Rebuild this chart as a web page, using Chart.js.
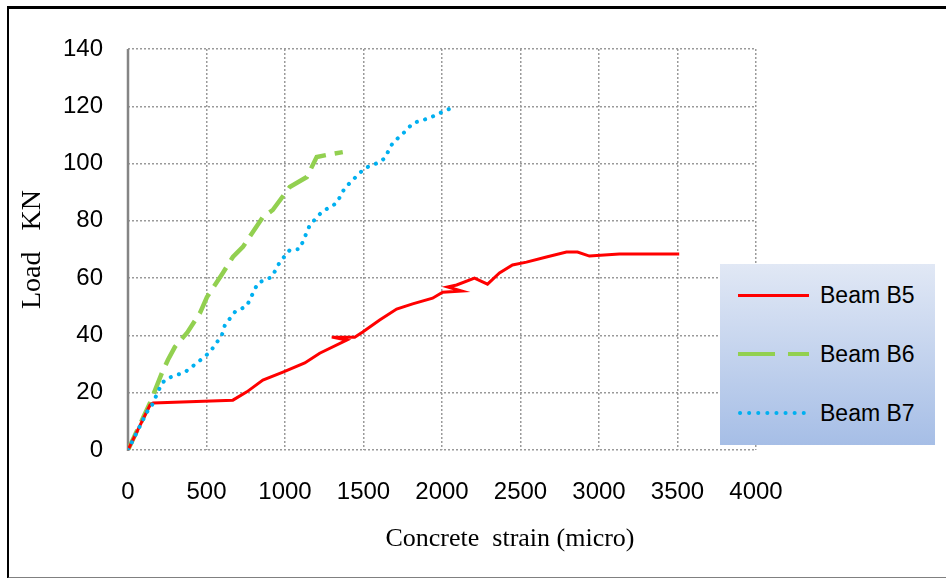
<!DOCTYPE html>
<html lang="en">
<head>
    <meta charset="UTF-8">
    <title>Load vs concrete strain</title>
    <style>
        body { margin: 0; background: #fff; }
        #quadro {
            position: absolute; left: 7px; top: 6px; width: 960px; height: 568px;
            border-top: 3px solid #000; border-left: 2px solid #000; border-bottom: 2px solid #808080;
        }
        #wrap { position: absolute; left: 0; top: 0; width: 946px; height: 578px; }
        #tituloX {
            position: absolute; left: 310px; width: 400px; top: 522px; text-align: center;
            font-family: 'Liberation Serif', 'Times New Roman', serif; font-size: 26px; line-height: 32px;
            white-space: pre;
        }
        #legenda {
            position: absolute; left: 720px; top: 264px; width: 215px; height: 181px;
            background: linear-gradient(to bottom, #e1e8f5, #a6bee6);
            font-family: 'Liberation Sans', Arial, sans-serif;
            font-size: 23px; color: #000;
        }
        .item { position: absolute; left: 18px; height: 30px; width: 200px; }
        .amostra { position: absolute; left: 0; top: 13px; width: 71px; height: 0; }
        .rotulo { position: absolute; left: 82px; top: -1px; line-height: 30px; white-space: nowrap; }
    </style>
</head>
<body>
    <div id="quadro"></div>
    <div id="wrap">
        <canvas id="grafico" width="946" height="578"></canvas>
        <div id="tituloX">Concrete  strain (micro)</div>
        <div id="legenda"></div>
    </div>
    <script src="https://cdn.jsdelivr.net/npm/chart.js"></script>
    <script>
        // leituras do grafico (strain em micro, carga em kN)
        const xB5 = [0, 140, 160, 668, 757, 859, 987, 1126, 1221, 1393, 1298, 1444, 1495, 1603, 1711, 1813, 1940, 2004, 2125, 2036, 2093, 2207, 2290, 2366, 2449, 2538, 2665, 2793, 2863, 2939, 3130, 3511]
        const yB5 = [0, 15.7, 16.4, 17.4, 20.3, 24.4, 27.2, 30.4, 33.8, 38.4, 39.4, 39.4, 41.2, 45.4, 49.2, 51, 53, 55.1, 55.5, 56.9, 57.6, 60, 57.9, 61.8, 64.6, 65.6, 67.4, 69.1, 69.1, 67.7, 68.4, 68.4]

        const xB6 = [0, 140, 216, 254, 299, 363, 375, 458, 503, 604, 668, 732, 859, 922, 1030, 1139, 1202, 1266, 1368]
        const yB6 = [0, 16.4, 26.9, 31.4, 36, 40.1, 40.8, 47.8, 53.4, 61.8, 67.4, 70.9, 81.3, 83.8, 91.8, 95.3, 102.3, 103, 104]

        const xB7 = [0, 121, 153, 191, 216, 254, 363, 439, 477, 522, 553, 598, 617, 681, 757, 827, 916, 967, 1030, 1094, 1158, 1234, 1329, 1380, 1463, 1508, 1603, 1635, 1686, 1775, 1813, 1921, 1972, 2029, 2080]
        const yB7 = [0, 13.3, 15.7, 20.3, 23.4, 25.1, 27.2, 30.4, 32.1, 34.2, 36.6, 40.1, 43.6, 48.2, 50.3, 58.3, 60.4, 65.6, 69.8, 70.2, 78.5, 83.1, 86.2, 91.4, 96, 98.4, 100.5, 101.9, 107.2, 111.7, 114.1, 115.9, 117.3, 118.7, 119.7]

        const nomes = ['Beam B5', 'Beam B6', 'Beam B7']
        const ticksX = [0, 500, 1000, 1500, 2000, 2500, 3000, 3500, 4000]
        const ticksY = [0, 20, 40, 60, 80, 100, 120, 140]

        const pares = (xs, ys) => xs.map((x, i) => ({ x: x, y: ys[i] }))

        const fonteNum = { family: "'Liberation Sans', Arial, sans-serif", size: 24 }
        const fonteTit = { family: "'Liberation Serif', 'Times New Roman', serif", size: 28 }
        const grade = { color: '#9a9a9a', lineWidth: 1.5, drawTicks: false }

        // linha cinza solida do eixo y
        const eixoY = {
            id: 'eixoY',
            beforeDatasetsDraw: c => {
                const a = c.chartArea
                const g = c.ctx
                g.save()
                g.strokeStyle = '#858585'
                g.lineWidth = 2.5
                g.beginPath()
                g.moveTo(a.left, a.top)
                g.lineTo(a.left, a.bottom + 1)
                g.stroke()
                g.restore()
            }
        }

        const ctx = document.getElementById('grafico')

        const grafico = new Chart(ctx, {
            type: 'scatter',
            data: {
                datasets: [{
                    label: nomes[0],
                    data: pares(xB5, yB5),
                    borderColor: '#ff0000',
                    borderWidth: 3,
                    showLine: true,
                    pointRadius: 0,
                    order: 1
                }, {
                    label: nomes[1],
                    data: pares(xB6, yB6),
                    borderColor: '#92d050',
                    borderWidth: 4.5,
                    borderDash: [22, 9],
                    showLine: true,
                    pointRadius: 0,
                    order: 2
                }, {
                    label: nomes[2],
                    data: pares(xB7, yB7),
                    borderColor: '#00b0f0',
                    borderWidth: 4,
                    borderDash: [0.1, 8.5],
                    borderCapStyle: 'round',
                    showLine: true,
                    pointRadius: 0,
                    order: 0
                }]
            },
            options: {
                responsive: false,
                animation: false,
                layout: { padding: { left: 0, top: 49, right: 190, bottom: 0 } },
                plugins: { legend: { display: false }, tooltip: { enabled: false } },
                scales: {
                    x: {
                        type: 'linear',
                        min: 0, max: 4000,
                        afterBuildTicks: s => { s.ticks = ticksX.map(v => ({ value: v })) },
                        afterFit: s => { s.height = 128 },
                        ticks: { font: fonteNum, color: '#000', padding: 28, maxRotation: 0, callback: v => String(v) },
                        grid: { ...grade },
                        border: { display: false, dash: [2, 2] }
                    },
                    y: {
                        min: 0, max: 140,
                        afterBuildTicks: s => { s.ticks = ticksY.map(v => ({ value: v })) },
                        afterFit: s => { s.width = 128 },
                        ticks: { font: fonteNum, color: '#000', padding: 25, callback: v => String(v) },
                        grid: { ...grade },
                        border: { display: false, dash: [2, 2] },
                        title: { display: true, text: 'Load   KN', font: fonteTit, color: '#000', padding: { top: 16, bottom: 0 } }
                    }
                }
            },
            plugins: [eixoY]
        })

        // legenda em HTML
        const legenda = document.getElementById('legenda')
        const tops = [17, 76, 135]
        grafico.data.datasets.forEach((d, i) => {
            const item = document.createElement('div')
            item.className = 'item'
            item.style.top = tops[i] + 'px'
            let amostra = ''
            if (i === 0) {
                amostra = '<div class="amostra" style="border-top:3px solid #ff0000"></div>'
            } else if (i === 1) {
                amostra = '<svg class="amostra" style="top:9px;height:10px;overflow:visible" width="71" height="10"><line x1="0" y1="5" x2="71" y2="5" stroke="#92d050" stroke-width="4" stroke-dasharray="37 13"/></svg>'
            } else {
                amostra = '<svg class="amostra" style="top:9px;height:10px;overflow:visible" width="71" height="10"><line x1="2" y1="5" x2="71" y2="5" stroke="#00b0f0" stroke-width="4" stroke-linecap="round" stroke-dasharray="0.1 9"/></svg>'
            }
            item.innerHTML = amostra + '<span class="rotulo">' + d.label + '</span>'
            legenda.appendChild(item)
        })
    </script>
</body>
</html>
